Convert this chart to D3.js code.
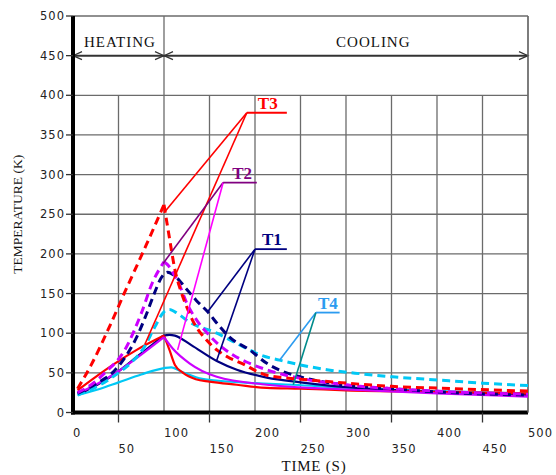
<!DOCTYPE html>
<html>
<head>
<meta charset="utf-8">
<script src="https://cdn.jsdelivr.net/npm/d3@7"></script>
<style>
  body { margin: 0; background: #fff; }
  svg { display: block; }
</style>
</head>
<body>
<svg id="chart" width="556" height="475"></svg>
<script>
// ---- measured curves: [time (s), temperature (K)] ----
const redDashed = [[5,30],[20,60],[40,108],[57,152],[80,210],[100,262],
  [106,220],[112,180],[118,155],[125,133],[132,115],[147,91],[158,79],[170,70],
  [189,60],[200,53],[213,47],[250,42],[280,39],[350,33],[420,30],[500,27]];
const redSolid = [[5,28],[25,45],[45,61],[70,79],[100,97],
  [106,79],[112,60],[121,50],[135,42],[150,39],[180,35],[213,31],[250,30],
  [300,28],[400,26],[500,24]];
const violetDashed = [[5,25],[20,35],[35,50],[57,79],[75,125],[87,163],[100,190],
  [105,185],[110,176],[118,158],[125,138],[135,118],[150,97],[175,73],[190,64],
  [210,55],[250,43],[300,35],[400,27],[500,23]];
const violetSolid = [[5,24],[25,35],[50,52],[75,73],[100,95],
  [110,80],[128,62],[158,45],[213,35],[300,29],[400,24],[500,20]];
const navyDashed = [[5,24],[25,36],[45,52],[63,80],[70,95],[80,122],[90,152],
  [97,170],[104,177],[112,172],[123,158],[135,142],[148,127],[160,110],
  [172,95],[194,79],[213,62],[230,52],[253,44],[296,35],[350,30],[400,26],[500,22]];
const navySolid = [[10,25],[30,37],[50,52],[70,70],[90,88],[100,97],[106,98],
  [112,97],[130,85],[158,65],[180,54],[213,44],[250,38],[300,32],[400,26],[500,22]];
const cyanDashed = [[5,22],[30,35],[50,50],[65,64],[78,82],[90,108],[100,127],
  [106,130],[112,127],[128,114],[158,100],[180,87],[194,79],[205,73],[227,66],
  [250,60],[279,54],[315,49],[351,45],[400,41],[450,37],[500,34]];
const cyanSolid = [[5,22],[30,30],[50,38],[75,48],[100,56],[108,57],[120,51],
  [139,43],[160,40],[200,37],[242,35],[300,31],[400,27],[500,24]];

// ---- axis ticks ----
const yTicks = [0,50,100,150,200,250,300,350,400,450,500];
const xTicksUpper = [0,100,200,300,400,500];
const xTicksLower = [50,150,250,350,450];
const gridY = [0,50,100,150,200,250,300,350,400];
const gridX = [0,50,100,150,200,250,300,350,400,450,500];

// ---- curve labels: name, vertex, underline end, targets ----
const labelNames = ["T3","T2","T1","T4"];
const labelVertex = [[191,378],[165,290],[200,206],[267,126]];
const labelLineEnd = [235,202,235,293];
const labelTargets = [
  [[100,252],[79,86]],
  [[99,188],[115,79]],
  [[148,127],[158,66]],
  [[227,66],[242,35]]
];

// ---- phase annotations ----
const phaseNames = ["HEATING","COOLING"];
const phaseSpan = [[0,100],[100,500]];
const phaseTextAt = [12,330];
const phaseLevel = 450;

const svg = d3.select("#chart");
const x = d3.scaleLinear().domain([0,500]).range([73,528]);
const y = d3.scaleLinear().domain([0,500]).range([412.5,16]);

svg.append("rect").attr("width",556).attr("height",475).attr("fill","#fff");

// ---- grid ----
const grid = svg.append("g").attr("stroke","#6b6b6b").attr("stroke-width",1.3).attr("fill","none");
gridY.forEach(v => grid.append("line")
  .attr("x1",x(0)).attr("x2",x(500)).attr("y1",y(v)).attr("y2",y(v)));
gridX.forEach(v => {
  const top = (v === 0 || v === 100 || v === 500) ? 500 : 400;
  grid.append("line").attr("x1",x(v)).attr("x2",x(v)).attr("y1",y(0)).attr("y2",y(top));
});
grid.append("line").attr("x1",x(0)).attr("x2",x(500)).attr("y1",y(500)).attr("y2",y(500));

// ---- phase arrows ----
const arr = svg.append("g").attr("stroke","#333").attr("fill","none");
arr.append("line").attr("x1",x(0)).attr("x2",x(500))
  .attr("y1",y(phaseLevel)).attr("y2",y(phaseLevel)).attr("stroke-width",2);
function chevron(tx, dir) {
  const py = y(phaseLevel);
  const px = x(tx);
  arr.append("path").attr("stroke-width",1.2)
    .attr("d", `M${px + dir*9},${py-4}L${px},${py}L${px + dir*9},${py+4}`);
}
phaseSpan.forEach(([a,b]) => { chevron(a, 1); chevron(b, -1); });
phaseNames.forEach((name,i) => {
  svg.append("text")
    .attr("x", x(phaseTextAt[i]))
    .attr("y", y(phaseLevel) - 9)
    .attr("text-anchor", i === 0 ? "start" : "middle")
    .attr("font-family","Liberation Serif, serif")
    .attr("font-size",15).attr("letter-spacing",1).attr("fill","#111")
    .text(name);
});

// ---- axes ----
svg.append("line").attr("x1",x(0)).attr("x2",x(0)).attr("y1",y(0)+2).attr("y2",y(500))
  .attr("stroke","#000").attr("stroke-width",4);
svg.append("line").attr("x1",x(0)-2).attr("x2",x(500)).attr("y1",y(0)).attr("y2",y(0))
  .attr("stroke","#000").attr("stroke-width",4);
svg.append("line").attr("x1",x(500)).attr("x2",x(500)).attr("y1",y(0)).attr("y2",y(500))
  .attr("stroke","#6b6b6b").attr("stroke-width",1.3);

const tickFont = "DejaVu Sans, sans-serif";
yTicks.forEach(v => {
  svg.append("line").attr("x1",x(0)-7).attr("x2",x(0)).attr("y1",y(v)).attr("y2",y(v))
    .attr("stroke","#333").attr("stroke-width",1.3);
  svg.append("text").attr("x",x(0)-8).attr("y",y(v)).attr("dy","0.36em")
    .attr("text-anchor","end").attr("font-family",tickFont).attr("font-size",11.5)
    .attr("letter-spacing",1).attr("fill","#222").text(v);
});
xTicksUpper.forEach(v => {
  svg.append("text").attr("x",x(v)).attr("y",437)
    .attr("font-family",tickFont).attr("font-size",11.5)
    .attr("letter-spacing",1).attr("fill","#222").text(v);
});
xTicksLower.forEach(v => {
  svg.append("line").attr("x1",x(v)).attr("x2",x(v)).attr("y1",y(0)).attr("y2",y(0)+10)
    .attr("stroke","#333").attr("stroke-width",1.3);
  svg.append("text").attr("x",x(v)).attr("y",453)
    .attr("font-family",tickFont).attr("font-size",11.5)
    .attr("letter-spacing",1).attr("fill","#222").text(v);
});

svg.append("text").attr("transform",`translate(22,${(y(0)+y(500))/2}) rotate(-90)`)
  .attr("text-anchor","middle").attr("font-family","Liberation Serif, serif")
  .attr("font-size",13.5).attr("fill","#111").text("TEMPERATURE (K)");
svg.append("text").attr("x",314).attr("y",471).attr("text-anchor","middle")
  .attr("font-family","Liberation Serif, serif").attr("font-size",15)
  .attr("letter-spacing",0.8).attr("fill","#111").text("TIME (S)");

// ---- curves ----
const series = [
  {pts: cyanSolid,    color: "#00c8f5", dashed: false, sharp: false},
  {pts: navySolid,    color: "#000080", dashed: false, sharp: false},
  {pts: redSolid,     color: "#ff0000", dashed: false, sharp: true},
  {pts: violetSolid,  color: "#cc00ff", dashed: false, sharp: true},
  {pts: cyanDashed,   color: "#00c8f5", dashed: true,  sharp: false},
  {pts: navyDashed,   color: "#000080", dashed: true,  sharp: false},
  {pts: violetDashed, color: "#cc00ff", dashed: true,  sharp: true},
  {pts: redDashed,    color: "#ff0000", dashed: true,  sharp: true}
];
const line = d3.line().x(d => x(d[0])).y(d => y(d[1])).curve(d3.curveMonotoneX);
const curves = svg.append("g").attr("fill","none");
series.forEach(s => {
  let parts = [s.pts];
  if (s.sharp) {
    const i = d3.maxIndex(s.pts, d => d[1]);
    parts = [s.pts.slice(0, i + 1), s.pts.slice(i)];
  }
  parts.forEach(p => curves.append("path").attr("d", line(p))
    .attr("stroke", s.color)
    .attr("stroke-width", s.dashed ? 3 : 2.2)
    .attr("stroke-dasharray", s.dashed ? "8,5" : null)
    .attr("stroke-linejoin","round"));
});

// ---- labels with leader lines ----
const labelColor = ["#ff0000","#800080","#000080","#2b9bf0"];
const leaderColors = [["#ff0000","#ff0000"],["#800080","#ff00ff"],["#000080","#000080"],["#2b9bf0","#008b8b"]];
const labelDx = [11, 9, 7, 2];
const labels = svg.append("g");
labelNames.forEach((name,i) => {
  const [vt, vT] = labelVertex[i];
  labelTargets[i].forEach((t,j) => labels.append("line")
    .attr("x1",x(vt)).attr("y1",y(vT)).attr("x2",x(t[0])).attr("y2",y(t[1]))
    .attr("stroke",leaderColors[i][j]).attr("stroke-width",1.6));
  labels.append("line").attr("x1",x(vt)).attr("x2",x(labelLineEnd[i]))
    .attr("y1",y(vT)).attr("y2",y(vT)).attr("stroke",labelColor[i]).attr("stroke-width",1.8);
  labels.append("text").attr("x",x(vt)+labelDx[i]).attr("y",y(vT)-4)
    .attr("font-family","Liberation Serif, serif").attr("font-weight","bold")
    .attr("font-size",17).attr("fill",labelColor[i]).text(name);
});
</script>
</body>
</html>
